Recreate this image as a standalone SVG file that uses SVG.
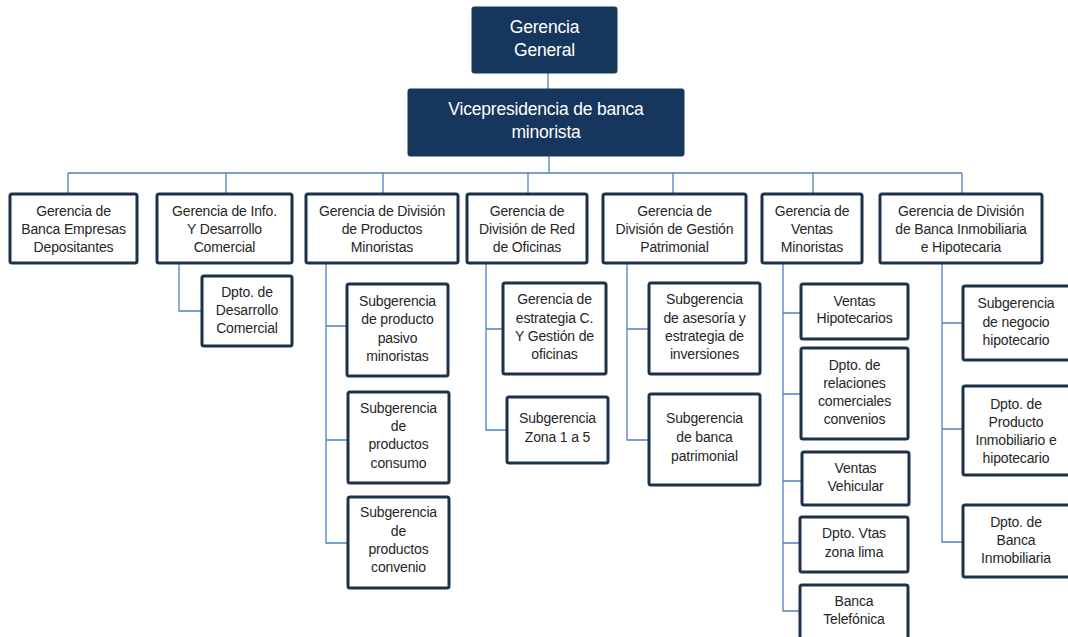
<svg xmlns="http://www.w3.org/2000/svg" width="1068" height="637" viewBox="0 0 1068 637">
<style>
.top rect{fill:#17365d;stroke:#17365d;stroke-width:1}
.top text{fill:#ffffff;font-family:"Liberation Sans",Arial,sans-serif;font-size:17.5px;text-anchor:middle;letter-spacing:-0.2px}
.box rect{fill:#ffffff;stroke:#1c324b;stroke-width:3}
.box text{fill:#262626;font-family:"Liberation Sans",Arial,sans-serif;font-size:14px;text-anchor:middle;letter-spacing:-0.15px}
.conn path{fill:none;stroke:#4f81bd;stroke-width:1.3}
</style>
<rect width="1068" height="637" fill="#ffffff"/>
<g class="conn" id="connectors">
<path d="M548,73V89"/>
<path d="M549,156V173"/>
<path d="M68,173H962"/>
<path d="M68,173V194M226,173V194M383,173V194M528,173V194M673,173V194M813,173V194M962,173V194"/>
<path d="M179,263V311H202"/>
<path d="M326,263V543H348M326,326H347M326,440H348"/>
<path d="M486,263V430H507M486,329H503"/>
<path d="M627,263V440H649M627,329H649"/>
<path d="M783,263V611H800M783,313H801M783,394H801M783,481H802M783,543H800"/>
<path d="M942,263V542H963M942,323H963M942,429H963"/>
</g>
<g class="top" id="n-gerencia-general">
<rect x="472" y="7" width="145" height="66" rx="2"/>
<text x="544.5" y="33">Gerencia</text>
<text x="544.5" y="56">General</text>
</g>
<g class="top" id="n-vicepresidencia">
<rect x="408" y="89" width="276" height="67" rx="2"/>
<text x="546" y="115">Vicepresidencia de banca</text>
<text x="546" y="138">minorista</text>
</g>
<g class="box" id="n-banca-empresas">
<rect x="10" y="194" width="127" height="69" rx="2"/>
<text x="73.5" y="216">Gerencia de</text>
<text x="73.5" y="234">Banca Empresas</text>
<text x="73.5" y="252">Depositantes</text>
</g>
<g class="box" id="n-info-desarrollo">
<rect x="157" y="194" width="135" height="69" rx="2"/>
<text x="224.5" y="216">Gerencia de Info.</text>
<text x="224.5" y="234">Y Desarrollo</text>
<text x="224.5" y="252">Comercial</text>
</g>
<g class="box" id="n-productos-minoristas">
<rect x="306" y="194" width="152" height="69" rx="2"/>
<text x="382" y="216">Gerencia de División</text>
<text x="382" y="234">de Productos</text>
<text x="382" y="252">Minoristas</text>
</g>
<g class="box" id="n-red-oficinas">
<rect x="467" y="194" width="120" height="69" rx="2"/>
<text x="527" y="216">Gerencia de</text>
<text x="527" y="234">División de Red</text>
<text x="527" y="252">de Oficinas</text>
</g>
<g class="box" id="n-gestion-patrimonial">
<rect x="603" y="194" width="143" height="69" rx="2"/>
<text x="674.5" y="216">Gerencia de</text>
<text x="674.5" y="234">División de Gestión</text>
<text x="674.5" y="252">Patrimonial</text>
</g>
<g class="box" id="n-ventas-minoristas">
<rect x="762" y="194" width="100" height="69" rx="2"/>
<text x="812" y="216">Gerencia de</text>
<text x="812" y="234">Ventas</text>
<text x="812" y="252">Minoristas</text>
</g>
<g class="box" id="n-banca-inmobiliaria">
<rect x="880" y="194" width="162" height="69" rx="2"/>
<text x="961" y="216">Gerencia de División</text>
<text x="961" y="234">de Banca Inmobiliaria</text>
<text x="961" y="252">e Hipotecaria</text>
</g>
<g class="box" id="n-dpto-desarrollo">
<rect x="202" y="276" width="90" height="70" rx="2"/>
<text x="247" y="297">Dpto. de</text>
<text x="247" y="315">Desarrollo</text>
<text x="247" y="333">Comercial</text>
</g>
<g class="box" id="n-sub-pasivo">
<rect x="347" y="284" width="101" height="92" rx="2"/>
<text x="397.5" y="306">Subgerencia</text>
<text x="397.5" y="324">de producto</text>
<text x="397.5" y="343">pasivo</text>
<text x="397.5" y="361">minoristas</text>
</g>
<g class="box" id="n-sub-consumo">
<rect x="348" y="392" width="101" height="91" rx="2"/>
<text x="398.5" y="413">Subgerencia</text>
<text x="398.5" y="431">de</text>
<text x="398.5" y="449">productos</text>
<text x="398.5" y="468">consumo</text>
</g>
<g class="box" id="n-sub-convenio">
<rect x="348" y="497" width="101" height="91" rx="2"/>
<text x="398.5" y="517">Subgerencia</text>
<text x="398.5" y="536">de</text>
<text x="398.5" y="554">productos</text>
<text x="398.5" y="572">convenio</text>
</g>
<g class="box" id="n-estrategia-oficinas">
<rect x="503" y="283" width="103" height="91" rx="2"/>
<text x="554.5" y="304">Gerencia de</text>
<text x="554.5" y="323">estrategia C.</text>
<text x="554.5" y="341">Y Gestión de</text>
<text x="554.5" y="359">oficinas</text>
</g>
<g class="box" id="n-zona">
<rect x="507" y="397" width="101" height="66" rx="2"/>
<text x="557.5" y="423">Subgerencia</text>
<text x="557.5" y="442">Zona 1 a 5</text>
</g>
<g class="box" id="n-asesoria">
<rect x="649" y="283" width="111" height="91" rx="2"/>
<text x="704.5" y="304">Subgerencia</text>
<text x="704.5" y="323">de asesoría y</text>
<text x="704.5" y="341">estrategia de</text>
<text x="704.5" y="359">inversiones</text>
</g>
<g class="box" id="n-banca-patrimonial">
<rect x="649" y="394" width="111" height="91" rx="2"/>
<text x="704.5" y="423">Subgerencia</text>
<text x="704.5" y="442">de banca</text>
<text x="704.5" y="461">patrimonial</text>
</g>
<g class="box" id="n-ventas-hipotecarios">
<rect x="801" y="284" width="107" height="55" rx="2"/>
<text x="854.5" y="306">Ventas</text>
<text x="854.5" y="323">Hipotecarios</text>
</g>
<g class="box" id="n-relaciones">
<rect x="801" y="348" width="107" height="91" rx="2"/>
<text x="854.5" y="370">Dpto. de</text>
<text x="854.5" y="388">relaciones</text>
<text x="854.5" y="406">comerciales</text>
<text x="854.5" y="424">convenios</text>
</g>
<g class="box" id="n-ventas-vehicular">
<rect x="802" y="452" width="107" height="53" rx="2"/>
<text x="855.5" y="473">Ventas</text>
<text x="855.5" y="491">Vehicular</text>
</g>
<g class="box" id="n-vtas-lima">
<rect x="800" y="517" width="108" height="55" rx="2"/>
<text x="854" y="538">Dpto. Vtas</text>
<text x="854" y="557">zona lima</text>
</g>
<g class="box" id="n-banca-telefonica">
<rect x="800" y="585" width="108" height="60" rx="2"/>
<text x="854" y="606">Banca</text>
<text x="854" y="624">Telefónica</text>
</g>
<g class="box" id="n-negocio-hipotecario">
<rect x="963" y="286" width="108" height="74" rx="2"/>
<text x="1016" y="308">Subgerencia</text>
<text x="1016" y="327">de negocio</text>
<text x="1016" y="345">hipotecario</text>
</g>
<g class="box" id="n-producto-inmobiliario">
<rect x="963" y="386" width="108" height="89" rx="2"/>
<text x="1016" y="409">Dpto. de</text>
<text x="1016" y="427">Producto</text>
<text x="1016" y="445">Inmobiliario e</text>
<text x="1016" y="463">hipotecario</text>
</g>
<g class="box" id="n-dpto-banca-inmobiliaria">
<rect x="963" y="505" width="108" height="72" rx="2"/>
<text x="1016" y="527">Dpto. de</text>
<text x="1016" y="545">Banca</text>
<text x="1016" y="563">Inmobiliaria</text>
</g>
</svg>
